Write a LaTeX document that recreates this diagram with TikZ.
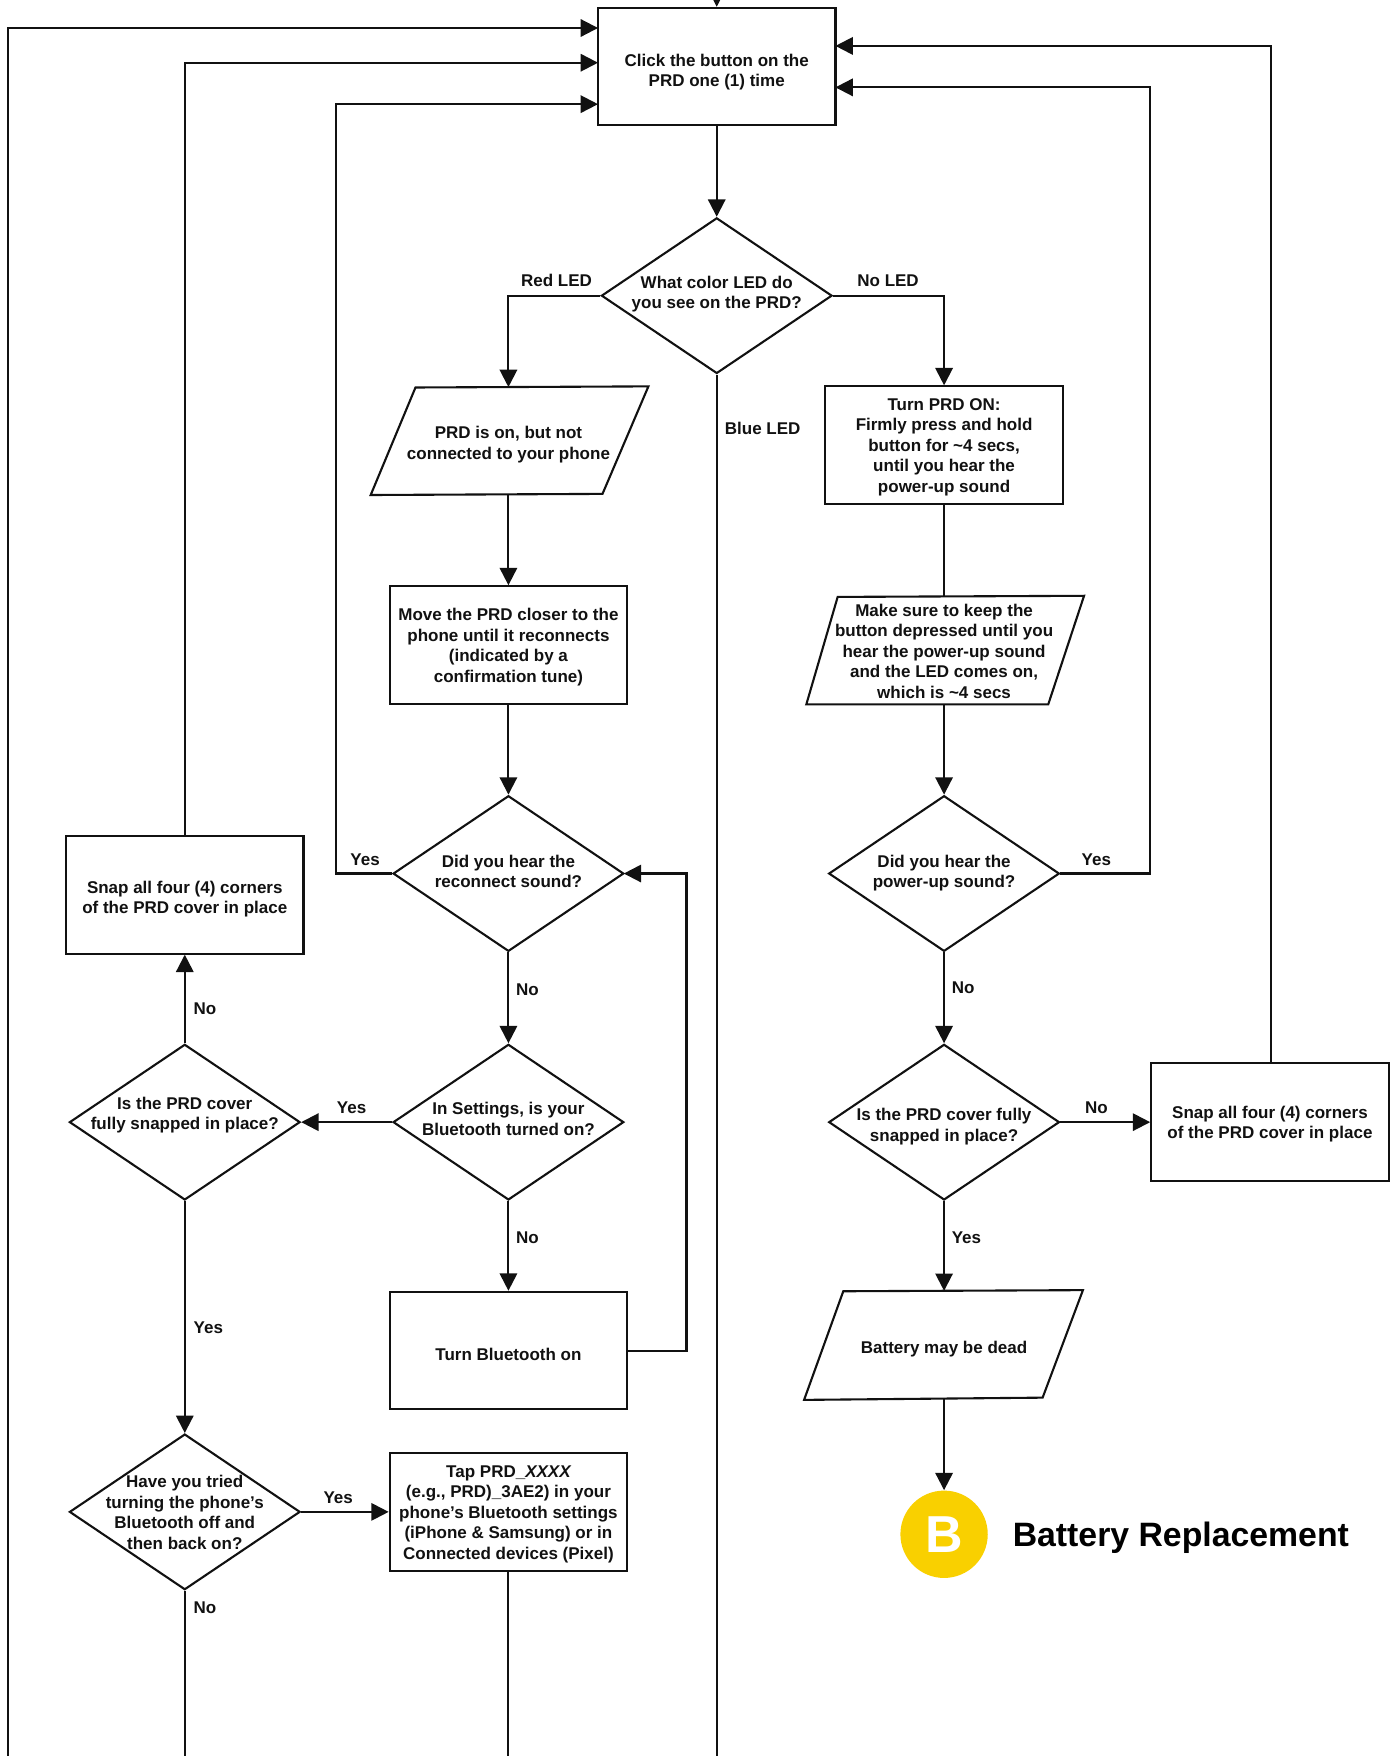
\documentclass[tikz,border=0pt]{standalone}
\usepackage{fontspec}
\setmainfont{Liberation Sans}
\usetikzlibrary{arrows.meta,shapes.geometric}
\definecolor{ink}{HTML}{111111}
\definecolor{badge}{HTML}{F9D000}
\newcommand{\uu}{0.56pt}
\tikzset{
  x=0.56pt,y=-0.56pt,
  txt/.style={font=\fontsize{8.5pt}{10.25pt}\selectfont\bfseries,text=ink,align=center,inner sep=0pt,
    execute at begin node=\strut,execute at end node=\strut},
  boxnode/.style={draw=ink,line width=1.05pt,fill=white,inner sep=0pt,minimum width=212*\uu,minimum height=105*\uu},
  dia/.style={diamond,draw=ink,line width=1.05pt,fill=white,inner sep=0pt,minimum width=206*\uu,minimum height=139*\uu,shape aspect=1.482},
  paratext/.style={inner sep=0pt,minimum width=207*\uu,minimum height=96*\uu},
  para/.style={draw=ink,line width=1.05pt,fill=white,line join=miter},
  plain/.style={draw=ink,line width=1.05pt},
  arr/.style={plain,-{Triangle[length=15.5*\uu,width=15.5*\uu]}},
  tag/.style={txt,anchor=center,yshift=-2.5*\uu},
  say/.style n args={2}{label={[txt,yshift=(#1-3)*\uu]center:{#2}}},
}
\begin{document}
\begin{tikzpicture}
\useasboundingbox (0,0) rectangle (1248,1568);
\clip (0,0) rectangle (1248,1568);
% Free ends
\coordinate (topin) at (640,-14);
\coordinate (bL) at (7,1590);
\coordinate (bA) at (165,1590);
\coordinate (bT) at (454,1590);
\coordinate (bB) at (640,1590);
\coordinate (inA) at (534,25);
\coordinate (inB) at (534,56);
\coordinate (inC) at (534,93);
\coordinate (inD) at (746,41);
\coordinate (inE) at (746,78);
\coordinate (inF) at (557,780);
\coordinate (tgA) at (1135,949);
% Parallelograms
\draw[para] (331,442)--(371,346)--(579,345)--(538,441)--cycle;
\draw[para] (720,629)--(748,533)--(968,532)--(936,629)--cycle;
\draw[para] (718,1250)--(753,1153)--(967,1152)--(931,1248)--cycle;
% Nodes
\node[boxnode,say={-3}{Click the button on the\\PRD one (1) time}] (click) at (640,59.5) {};
\node[dia,say={3}{What color LED do\\you see on the PRD?}] (color) at (640,264) {};
\node[paratext,say={-1}{PRD is on, but not\\connected to your phone}] (ptA) at (454,394) {};
\node[boxnode,say={0}{Move the PRD closer to the\\phone until it reconnects\\(indicated by a\\confirmation tune)}] (move) at (454,576) {};
\node[dia,say={2}{Did you hear the\\reconnect sound?}] (recon) at (454,780) {};
\node[dia,say={3}{In Settings, is your\\Bluetooth turned on?}] (sett) at (454,1002) {};
\node[boxnode,say={-2}{Turn Bluetooth on}] (bton) at (454,1206) {};
\node[boxnode,say={0}{Tap PRD\_{\itshape XXXX}\\(e.g., PRD)\_3AE2) in your\\phone’s Bluetooth settings\\(iPhone \& Samsung) or in\\Connected devices (Pixel)}] (tap) at (454,1350) {};
\node[dia,say={8}{Is the PRD cover\\fully snapped in place?}] (covL) at (165,1002) {};
\node[boxnode,say={-2}{Snap all four (4) corners\\of the PRD cover in place}] (snapL) at (165,799) {};
\node[dia,say={0}{Have you tried\\turning the phone’s\\Bluetooth off and\\then back on?}] (tried) at (165,1350) {};
\node[boxnode,say={0}{Turn PRD ON:\\Firmly press and hold\\button for \textasciitilde4 secs,\\until you hear the\\power-up sound}] (turn) at (843,397.5) {};
\node[paratext,say={0}{Make sure to keep the\\button depressed until you\\hear the power-up sound\\and the LED comes on,\\which is \textasciitilde4 secs}] (ptB) at (843,581) {};
\node[dia,say={2}{Did you hear the\\power-up sound?}] (power) at (843,780) {};
\node[dia,say={-2}{Is the PRD cover fully\\snapped in place?}] (covR) at (843,1002) {};
\node[boxnode,say={0}{Snap all four (4) corners\\of the PRD cover in place}] (snapR) at (1134,1002) {};
\node[paratext,say={-1}{Battery may be dead}] (ptC) at (843,1201) {};
\node[circle,fill=badge,minimum size=78*\uu,inner sep=0pt,text=white,font=\fontsize{26pt}{26pt}\selectfont\bfseries] (bb) at (843,1370) {B};
\node[font=\fontsize{16.9pt}{18pt}\selectfont\bfseries,text=black,anchor=west,inner sep=0pt] (bbt) at (904,1373) {Battery Replacement};
% Connectors
\draw[arr] (topin) -- (click.north);
\draw[arr] (bL) |- (inA);
\draw[arr] (snapL.north) |- (inB);
\draw[arr] (recon.west) -| (300,400) |- (inC);
\draw[arr] (tgA) |- (inD);
\draw[arr] (power.east) -| (1027,400) |- (inE);
\draw[arr] (click.south) -- (color.north);
\draw[arr] (color.west) -| (ptA.north);
\draw[arr] (color.east) -| (turn.north);
\draw[plain] (color.south) -- (bB);
\draw[arr] (ptA.south) -- (move.north);
\draw[arr] (move.south) -- (recon.north);
\draw[arr] (recon.south) -- (sett.north);
\draw[arr] (sett.south) -- (bton.north);
\draw[arr] (sett.west) -- (covL.east);
\draw[arr] (bton.east) -| (613,900) |- (inF);
\draw[arr] (covL.north) -- (snapL.south);
\draw[arr] (covL.south) -- (tried.north);
\draw[arr] (tried.east) -- (tap.west);
\draw[plain] (tried.south) -- (bA);
\draw[plain] (tap.south) -- (bT);
\draw[plain] (turn.south) -- (ptB.north);
\draw[arr] (ptB.south) -- (power.north);
\draw[arr] (power.south) -- (covR.north);
\draw[arr] (covR.east) -- (snapR.west);
\draw[arr] (covR.south) -- (ptC.north);
\draw[arr] (ptC.south) -- (bb.north);
% Edge labels
\node[tag] (l1) at (497,250) {Red LED};
\node[tag] (l2) at (793,250) {No LED};
\node[tag] (l3) at (681,382) {Blue LED};
\node[tag] (l4) at (326,767) {Yes};
\node[tag] (l5) at (471,883) {No};
\node[tag] (l6) at (314,988) {Yes};
\node[tag] (l7) at (471,1104) {No};
\node[tag] (l8) at (183,900) {No};
\node[tag] (l9) at (186,1185) {Yes};
\node[tag] (l10) at (302,1336) {Yes};
\node[tag] (l11) at (183,1435) {No};
\node[tag] (l12) at (979,767) {Yes};
\node[tag] (l13) at (860,881) {No};
\node[tag] (l14) at (979,988) {No};
\node[tag] (l15) at (863,1104) {Yes};
\end{tikzpicture}
\end{document}
